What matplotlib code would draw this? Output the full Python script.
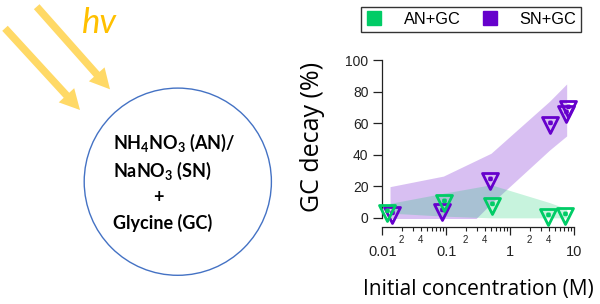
import numpy as np
import matplotlib
matplotlib.use("Agg")
import matplotlib.pyplot as plt
from matplotlib.patches import Circle, FancyArrow, Rectangle
from matplotlib.lines import Line2D
from matplotlib.path import Path
from matplotlib.ticker import FixedLocator, FuncFormatter, LogLocator

plt.rcParams['mathtext.fontset'] = 'custom'
plt.rcParams['mathtext.rm'] = 'Lato:bold'
plt.rcParams['mathtext.bf'] = 'Lato:bold'
plt.rcParams['mathtext.it'] = 'Lato:bold:italic'

# ---------------- data ----------------
series_names = ["AN+GC", "SN+GC"]
series_colors = ["#00CC66", "#6600CC"]

an_x = [0.0117, 0.093, 0.52, 3.95, 7.2]
an_y = [3.2, 9.4, 7.6, 0.5, 1.0]

sn_x = [0.0142, 0.0855, 0.49, 4.2, 7.4, 7.9]
sn_y = [2.1, 4.0, 23.5, 58.9, 65.7, 69.0]

band_x = [0.0132, 0.09, 0.5, 4.1, 7.6]
an_band_hi = [9.2, 15.6, 21.0, 9.7, 5.8]
an_band_lo = [3.0, 1.1, 0.0, 0.0, 0.0]
sn_band_hi = [19.8, 26.5, 41.0, 74.0, 85.0]
sn_band_lo = [-5.0, -21.0, 9.0, 43.0, 52.0]

y_ticks = [0, 20, 40, 60, 80, 100]
x_major = [0.01, 0.1, 1, 10]
x_major_labels = ["0.01", "0.1", "1", "10"]

# ---------------- figure ----------------
W, H = 600, 304
fig = plt.figure(figsize=(W / 100, H / 100), dpi=100)

# left schematic panel in pixel coordinates
ax0 = fig.add_axes([0, 0, 1, 1])
ax0.set_xlim(0, W)
ax0.set_ylim(H, 0)
ax0.axis("off")

ax0.add_patch(Circle((177.8, 181.7), 93.6, fill=False, ec="#4472C4", lw=1.0))
arrow_kw = dict(width=7.5, head_width=21, head_length=20, length_includes_head=True,
                color="#FFD966", lw=0)
ax0.add_patch(FancyArrow(5, 28.3, 75, 81.7, **arrow_kw))
ax0.add_patch(FancyArrow(36.7, 6.7, 73.3, 82.6, **arrow_kw))
ax0.text(82, 33, "hv", color="#FFC000", fontsize=25, style="italic",
         family="Lato", ha="left", va="baseline")

txt_kw = dict(fontsize=13, fontweight="bold", family="Lato", color="black",
              ha="left", va="baseline")
ax0.text(113, 149, r"NH$_4$NO$_3$ (AN)/", **txt_kw)
ax0.text(113, 177, r"NaNO$_3$ (SN)", **txt_kw)
ax0.text(153, 203, "+", **txt_kw)
ax0.text(113, 229, "Glycine (GC)", **txt_kw)

# main chart
left = 382.3 / W
right = 574.3 / W
bottom = (H - 227.3) / H
top = (H - 60.3) / H
ax = fig.add_axes([left, bottom, right - left, top - bottom])
ax.set_facecolor("none")

ax.set_xscale("log")
ax.set_xlim(0.01, 10)
ax.set_ylim(-6, 100)

clip_rect = Rectangle((1e-3, 0), 1e3, 200, transform=ax.transData)
p1 = ax.fill_between(band_x, sn_band_lo, sn_band_hi, color=series_colors[1],
                     alpha=0.25, lw=0, zorder=1)
p1.set_clip_path(clip_rect)
p2 = ax.fill_between(band_x, an_band_lo, an_band_hi, color=series_colors[0],
                     alpha=0.22, lw=0, zorder=2)
p2.set_clip_path(clip_rect)

# triangle marker with a centre dot
tri = [(0, -1), (-1, 1), (1, 1), (0, -1)]
d = 0.12
dot = [(-d, 0.33 - d), (d, 0.33 - d), (d, 0.33 + d), (-d, 0.33 + d), (-d, 0.33 - d)]
verts = tri + dot
codes = ([Path.MOVETO, Path.LINETO, Path.LINETO, Path.CLOSEPOLY] +
         [Path.MOVETO, Path.LINETO, Path.LINETO, Path.LINETO, Path.CLOSEPOLY])
marker_path = Path(verts, codes)

ax.plot(sn_x, sn_y, ls="none", marker=marker_path, ms=11.5, mfc="none",
        mec=series_colors[1], mew=2.0, zorder=3, clip_on=False)
ax.plot(an_x, an_y, ls="none", marker=marker_path, ms=11.5, mfc="none",
        mec=series_colors[0], mew=2.0, zorder=4, clip_on=False)

for s in ["top", "right"]:
    ax.spines[s].set_visible(False)
ax.spines["left"].set_bounds(0, 100)
for s in ["left", "bottom"]:
    ax.spines[s].set_linewidth(0.9)
    ax.spines[s].set_color("#222222")

ax.yaxis.set_major_locator(FixedLocator(y_ticks))
ax.tick_params(axis="y", direction="out", length=6.5, width=0.9, pad=3.5,
               labelsize=10, colors="#222222")
ax.xaxis.set_major_locator(FixedLocator(x_major))
ax.set_xticklabels(x_major_labels)
ax.xaxis.set_minor_locator(LogLocator(base=10, subs=np.arange(2, 10)))


def minor_fmt(v, pos):
    m = v / 10 ** np.floor(np.log10(v) + 1e-9)
    m = int(round(m))
    return str(m) if m in (2, 4) else ""


ax.xaxis.set_minor_formatter(FuncFormatter(minor_fmt))
ax.tick_params(axis="x", which="major", direction="out", length=5.5, width=0.9,
               pad=7, labelsize=10.5, colors="#222222")
ax.tick_params(axis="x", which="minor", direction="out", length=3.2, width=0.8,
               pad=2.5, labelsize=7, colors="#222222")
for lab in ax.get_xticklabels(which="both") + ax.get_yticklabels():
    lab.set_family("Liberation Sans")

ax.set_xlabel("Initial concentration (M)", fontsize=15, family="Open Sans")
ax.xaxis.set_label_coords(0.5, -0.31)
ax.set_ylabel("GC decay (%)", fontsize=18, family="Open Sans")
ax.yaxis.set_label_coords(-0.30, 0.54)

handles = [Line2D([], [], ls="none", marker="s", ms=9.5, mfc=c, mec=c)
           for c in series_colors]
leg = fig.legend(handles, series_names, ncol=2, loc="center",
                 bbox_to_anchor=((364.3 + 577.7) / 2 / W, 1 - 19.2 / H),
                 frameon=True, fancybox=False, edgecolor="black",
                 prop={"family": "Liberation Sans", "size": 11.8},
                 handlelength=1.0, handletextpad=1.3, columnspacing=1.3,
                 borderpad=0.3, borderaxespad=0)
leg.get_frame().set_linewidth(1.0)

fig.savefig("out.png", dpi=100)
